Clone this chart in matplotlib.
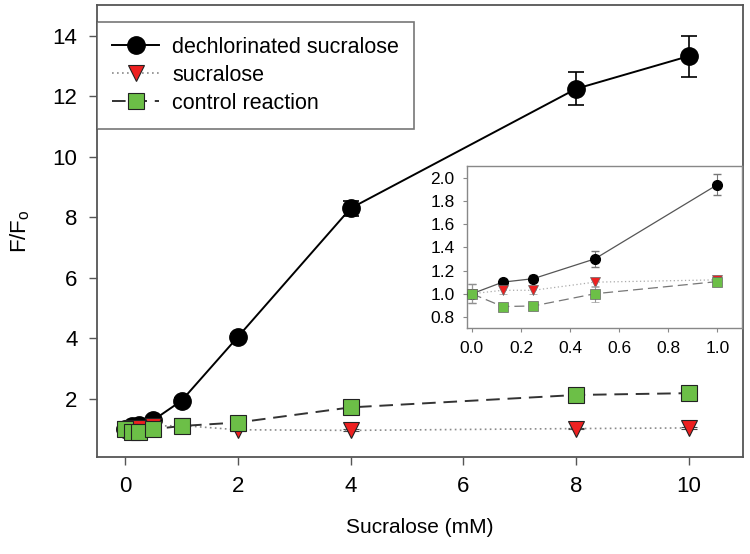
import numpy as np
import matplotlib.pyplot as plt

plt.rcParams['font.family'] = ['Liberation Sans', 'DejaVu Sans']

# sucralose concentration (mM)
conc = [0, 0.125, 0.25, 0.5, 1, 2, 4, 8, 10]

dechl = [1.00, 1.10, 1.13, 1.30, 1.94, 4.05, 8.30, 12.25, 13.33]
dechl_err = [0.08, 0.03, 0.03, 0.07, 0.09, 0.10, 0.25, 0.55, 0.68]

sucr = [1.00, 1.03, 1.03, 1.10, 1.12, 0.98, 0.96, 1.02, 1.04]
sucr_err = [0.02, 0.03, 0.03, 0.04, 0.03, 0.03, 0.03, 0.03, 0.03]

ctrl = [1.00, 0.89, 0.895, 1.00, 1.105, 1.22, 1.72, 2.13, 2.19]
ctrl_err = [0.08, 0.03, 0.02, 0.07, 0.03, 0.05, 0.10, 0.10, 0.10]

n_in = 5  # points shown in the inset (0 .. 1 mM)

green = '#6cbf47'
red = '#ee2020'
spine_c = '#555555'

fig = plt.figure(figsize=(7.5, 5.54), dpi=100)
ax = fig.add_axes([0.1293, 0.1751, 0.8613, 0.8159])

e1 = ax.errorbar(conc, dechl, yerr=dechl_err, color='black', lw=1.4, marker='o', ms=12.5,
                 mfc='black', mec='black', capsize=6, elinewidth=1.2, capthick=1.2,
                 label='dechlorinated sucralose', zorder=3)
e2 = ax.errorbar(conc, sucr, yerr=sucr_err, color='#8a8a8a', lw=1.2, ls=(0, (1, 2)), marker='v',
                 ms=12, mfc=red, mec='#222222', mew=0.8, capsize=6, ecolor='#444444',
                 elinewidth=1, label='sucralose', zorder=4)
e3 = ax.errorbar(conc, ctrl, yerr=ctrl_err, color='#333333', lw=1.4, ls=(0, (7, 4)), marker='s',
                 ms=12, mfc=green, mec='#222222', mew=0.8, capsize=6, ecolor='#444444',
                 elinewidth=1, label='control reaction', zorder=5)

ax.set_xlim(-0.5, 10.96)
ax.set_ylim(0.08, 15.02)
ax.set_xticks([0, 2, 4, 6, 8, 10])
ax.set_yticks([2, 4, 6, 8, 10, 12, 14])
ax.tick_params(direction='out', length=6, width=1, color=spine_c, labelsize=16, pad=8)
for s in ax.spines.values():
    s.set_color(spine_c)
    s.set_linewidth(1.3)
ax.set_xlabel('Sucralose (mM)', fontsize=15)
ax.set_ylabel('F/F$_\\mathregular{o}$', fontsize=16)
ax.xaxis.set_label_coords(0.5, -0.135)
ax.yaxis.set_label_coords(-0.101, 0.5)

handles = [e1[0], e2[0], e3[0]]
labels = ['dechlorinated sucralose', 'sucralose', 'control reaction']
leg = ax.legend(handles, labels, loc='upper left', bbox_to_anchor=(0, 0.963), fontsize=15.5,
                frameon=True, fancybox=False, borderaxespad=0, handlelength=2.2,
                handletextpad=0.6, labelspacing=0.32, borderpad=0.7)
leg.get_frame().set_edgecolor(spine_c)
leg.get_frame().set_linewidth(1.2)

# inset for low concentrations
ins = fig.add_axes([0.6227, 0.4079, 0.3667, 0.2924])
ins.errorbar(conc[:n_in], dechl[:n_in], yerr=dechl_err[:n_in], color='#555555', lw=0.9,
             marker='o', ms=7, mfc='black', mec='black', capsize=3, ecolor='#777777',
             elinewidth=0.8, zorder=3)
ins.errorbar(conc[:n_in], sucr[:n_in], yerr=sucr_err[:n_in], color='#aaaaaa', lw=0.9,
             ls=(0, (1, 2)), marker='v', ms=7, mfc=red, mec='#666666', mew=0.5, capsize=3,
             ecolor='#999999', elinewidth=0.8, zorder=4)
ins.errorbar(conc[:n_in], ctrl[:n_in], yerr=ctrl_err[:n_in], color='#777777', lw=0.9,
             ls=(0, (8, 4)), marker='s', ms=6.5, mfc=green, mec='#666666', mew=0.5,
             capsize=3, ecolor='#999999', elinewidth=0.8, zorder=5)
ins.set_xlim(-0.02, 1.1)
ins.set_ylim(0.705, 2.1)
ins.set_xticks([0, 0.2, 0.4, 0.6, 0.8, 1.0])
ins.set_yticks([0.8, 1.0, 1.2, 1.4, 1.6, 1.8, 2.0])
ins.xaxis.set_major_formatter(plt.FormatStrFormatter('%.1f'))
ins.yaxis.set_major_formatter(plt.FormatStrFormatter('%.1f'))
ins.tick_params(direction='out', length=3, width=0.8, color='#888888', labelsize=12.5, pad=6)
for s in ins.spines.values():
    s.set_color('#888888')
    s.set_linewidth(1.0)

fig.savefig('out.png', dpi=100)
